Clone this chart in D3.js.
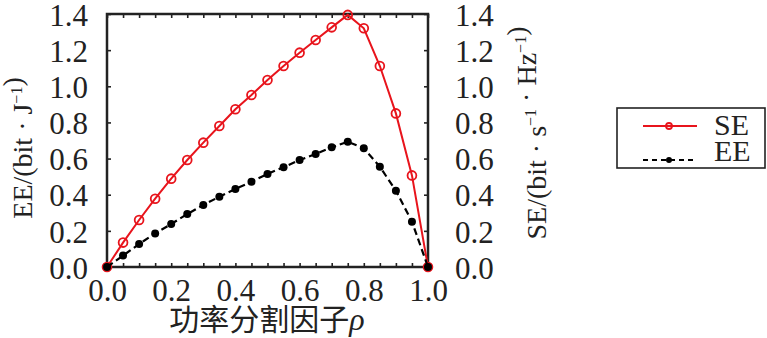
<!DOCTYPE html>
<html><head><meta charset="utf-8">
<script src="https://cdn.jsdelivr.net/npm/d3@7/dist/d3.min.js"></script>
<style>
html,body{margin:0;padding:0;background:#fff;}
svg{display:block;font-family:"Liberation Serif","DejaVu Serif",serif;}
</style></head>
<body>
<svg id="c" width="767" height="338"></svg>
<script>
const rho = [0,0.05,0.1,0.15,0.2,0.25,0.3,0.35,0.4,0.45,0.5,0.55,0.6,0.65,0.7,0.75,0.8,0.85,0.9,0.95,1.0];
const seValues = [0,0.135,0.26,0.378,0.489,0.592,0.688,0.78,0.873,0.952,1.035,1.112,1.186,1.256,1.326,1.395,1.321,1.112,0.85,0.507,0];
const eeValues = [0,0.063,0.127,0.186,0.238,0.293,0.343,0.389,0.432,0.472,0.515,0.552,0.592,0.625,0.662,0.693,0.657,0.555,0.422,0.251,0];
const xTickLabels = [0,0.2,0.4,0.6,0.8,1.0];
const yTickLabels = [0,0.2,0.4,0.6,0.8,1.0,1.2,1.4];
const seriesNames = ["SE","EE"];

const svg = d3.select("#c");
const L=107,R=428,T=14,B=267;
const x = d3.scaleLinear().domain([0,1]).range([L,R]);
const y = d3.scaleLinear().domain([0,1.4]).range([B,T]);
const red = "#e8141c";
const fs = 31;

const fmt = d => xTickLabels.some(v=>Math.abs(v-d)<1e-9) ? d.toFixed(1) : "";
function styleAxis(g){
  g.select(".domain").remove();
  g.selectAll(".tick line").attr("stroke","#222").attr("stroke-width",1.6);
  g.selectAll("text").attr("font-size",fs).attr("fill","#222").attr("font-family","Liberation Serif");
}
svg.append("g").attr("transform",`translate(0,${B})`)
  .call(d3.axisBottom(x).tickValues(rho).tickSize(-4).tickPadding(12).tickFormat(fmt)).call(styleAxis);
svg.append("g").attr("transform",`translate(0,${T})`)
  .call(d3.axisTop(x).tickValues(rho).tickSize(-4).tickFormat("")).call(styleAxis);
svg.append("g").attr("transform",`translate(${L},0)`)
  .call(d3.axisLeft(y).tickValues(yTickLabels).tickSize(-4).tickPadding(19).tickFormat(d3.format(".1f"))).call(styleAxis)
  .selectAll("text").attr("dy","0.36em");
svg.append("g").attr("transform",`translate(${R},0)`)
  .call(d3.axisRight(y).tickValues(yTickLabels).tickSize(-4).tickPadding(27).tickFormat(d3.format(".1f"))).call(styleAxis)
  .selectAll("text").attr("dy","0.36em");

svg.append("rect").attr("x",L).attr("y",T).attr("width",R-L).attr("height",B-T)
  .attr("fill","none").attr("stroke","#222").attr("stroke-width",2.5);

const line = d3.line().x((d,i)=>x(rho[i])).y(d=>y(d));
svg.append("path").datum(seValues).attr("d",line).attr("fill","none").attr("stroke",red).attr("stroke-width",2);
svg.selectAll(".sem").data(seValues).join("circle").attr("class","sem")
  .attr("cx",(d,i)=>x(rho[i])).attr("cy",d=>y(d)).attr("r",4.4)
  .attr("fill","none").attr("stroke",red).attr("stroke-width",1.8);
svg.append("path").datum(eeValues).attr("d",line).attr("fill","none").attr("stroke","#000")
  .attr("stroke-width",2.2).attr("stroke-dasharray","7,4");
svg.selectAll(".eem").data(eeValues).join("circle").attr("class","eem")
  .attr("cx",(d,i)=>x(rho[i])).attr("cy",d=>y(d)).attr("r",4).attr("fill","#000");

// axis titles
svg.append("text").attr("x",267).attr("y",330).attr("text-anchor","middle")
  .attr("font-size",32).attr("fill","#222")
  .call(t=>{t.append("tspan").attr("font-family","Noto Sans CJK SC").attr("font-size",30).text("功率分割因子");
            t.append("tspan").attr("font-style","italic").attr("font-family","Liberation Serif").text("ρ");});

function supLabel(g, parts){
  parts.forEach(p=>{
    if(p.sup){ g.append("tspan").attr("font-size",16).attr("dy",-10).text(p.t); g.append("tspan").attr("dy",10).text(""); }
    else g.append("tspan").text(p.t);
  });
}
const yl = svg.append("text").attr("transform","translate(32,148) rotate(-90)").attr("text-anchor","middle")
  .attr("font-size",28).attr("fill","#222");
supLabel(yl,[{t:"EE/(bit · J"},{t:"−1",sup:true},{t:")"}]);
const yr = svg.append("text").attr("transform","translate(546,133) rotate(-90)").attr("text-anchor","middle")
  .attr("font-size",28).attr("fill","#222");
supLabel(yr,[{t:"SE/(bit · s"},{t:"−1",sup:true},{t:" · Hz"},{t:"−1",sup:true},{t:")"}]);

// legend
const lg = svg.append("g");
lg.append("rect").attr("x",617).attr("y",108).attr("width",148).attr("height",60)
  .attr("fill","#fff").attr("stroke","#222").attr("stroke-width",1.6);
const ly = [126,160];
lg.append("line").attr("x1",643).attr("x2",697).attr("y1",ly[0]).attr("y2",ly[0]).attr("stroke",red).attr("stroke-width",2);
lg.append("circle").attr("cx",669).attr("cy",ly[0]).attr("r",3).attr("fill","none").attr("stroke",red).attr("stroke-width",1.8);
lg.append("line").attr("x1",643).attr("x2",697).attr("y1",ly[1]).attr("y2",ly[1]).attr("stroke","#000").attr("stroke-width",2).attr("stroke-dasharray","5,4");
lg.append("circle").attr("cx",669).attr("cy",ly[1]).attr("r",3).attr("fill","#000");
lg.selectAll(".lt").data(seriesNames).join("text").attr("class","lt")
  .attr("x",714).attr("y",(d,i)=>[135,161][i]).attr("font-size",30).attr("fill","#222").text(d=>d);
</script>
</body></html>
